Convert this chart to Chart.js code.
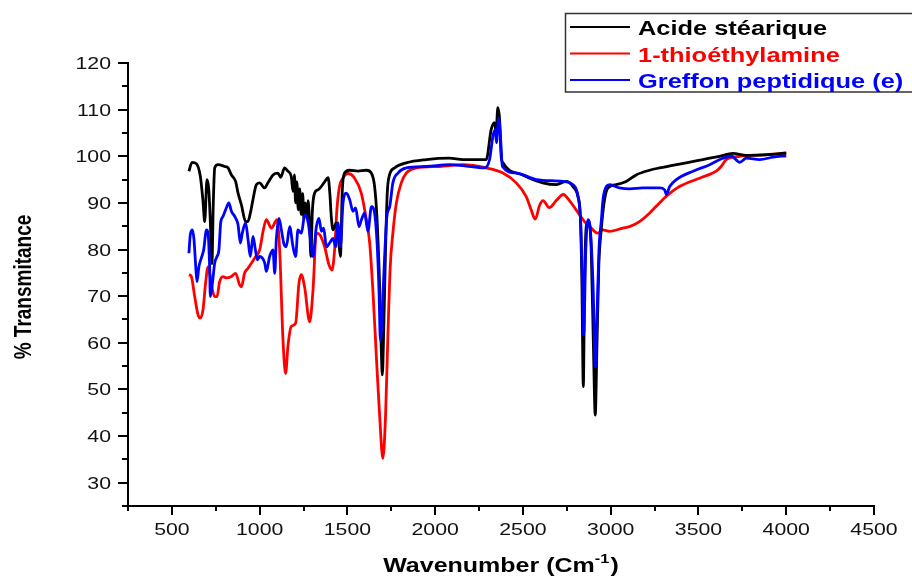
<!DOCTYPE html>
<html>
<head>
<meta charset="utf-8">
<script src="https://cdn.jsdelivr.net/npm/chart.js@4"></script>
<style>
  body { margin: 0; background: #fff; }
  canvas { display: block; }
</style>
</head>
<body>
<canvas id="ir" width="912" height="577"></canvas>
<script>
// Series labels
const seriesNames = ['Acide stéarique', '1-thioéthylamine', 'Greffon peptidique (e)'];

// Acide stéarique (black)
const stearicWn = [597, 615, 640, 662, 677, 687, 700, 710, 718, 728, 736, 744, 763, 801, 820, 839, 863, 877, 896, 920, 933, 947, 962, 981, 1000, 1028, 1047, 1076, 1104, 1120, 1142, 1161, 1180, 1190, 1198, 1205, 1212, 1220, 1228, 1237, 1245, 1252, 1260, 1268, 1276, 1285, 1292, 1300, 1313, 1332, 1351, 1370, 1390, 1400, 1408, 1418, 1437, 1450, 1460, 1471, 1484, 1513, 1560, 1608, 1636, 1655, 1668, 1683, 1693, 1699, 1706, 1717, 1727, 1740, 1769, 1835, 1949, 2082, 2158, 2291, 2319, 2338, 2347, 2357, 2367, 2376, 2386, 2499, 2613, 2690, 2747, 2785, 2813, 2827, 2836, 2844, 2851, 2861, 2875, 2889, 2902, 2912, 2921, 2932, 2946, 2965, 2984, 3031, 3088, 3145, 3221, 3278, 3430, 3525, 3620, 3696, 3772, 3886, 4000];
const stearicT = [96.8, 98.7, 98.4, 95.7, 90.5, 86.0, 95.0, 93.0, 87.0, 77.0, 90.0, 97.5, 98.2, 97.8, 97.5, 96.0, 94.6, 92.1, 89.6, 86.0, 86.0, 87.8, 90.7, 93.9, 94.3, 93.2, 94.3, 96.0, 96.4, 95.5, 97.5, 96.8, 95.7, 92.5, 96.0, 90.0, 94.5, 88.5, 93.0, 87.5, 92.0, 86.5, 90.0, 87.0, 90.5, 85.0, 78.5, 88.0, 92.1, 92.8, 93.5, 94.5, 95.4, 92.0, 87.1, 84.2, 85.7, 82.0, 78.5, 92.8, 96.4, 97.0, 96.8, 97.0, 96.4, 93.5, 87.1, 72.8, 58.4, 53.1, 61.3, 79.9, 92.1, 96.0, 97.5, 98.6, 99.3, 99.6, 99.3, 99.3, 105.7, 107.2, 105.0, 110.4, 107.9, 100.0, 98.6, 96.0, 94.3, 93.9, 94.6, 93.5, 91.4, 87.1, 72.8, 50.6, 72.8, 85.0, 86.0, 79.9, 58.4, 44.5, 58.4, 76.3, 84.2, 90.7, 93.2, 93.9, 94.6, 96.0, 97.0, 97.5, 98.6, 99.3, 100.0, 100.6, 100.2, 100.3, 100.7];

// 1-thioéthylamine (red)
const thioWn = [597, 611, 630, 649, 662, 677, 692, 706, 715, 730, 744, 757, 772, 791, 810, 839, 863, 886, 896, 914, 934, 972, 1000, 1020, 1038, 1067, 1099, 1114, 1133, 1148, 1161, 1180, 1205, 1224, 1237, 1256, 1285, 1304, 1323, 1342, 1370, 1395, 1412, 1427, 1440, 1455, 1474, 1503, 1541, 1579, 1608, 1627, 1645, 1665, 1684, 1702, 1717, 1731, 1744, 1759, 1779, 1807, 1835, 1892, 2025, 2158, 2291, 2386, 2462, 2518, 2547, 2570, 2595, 2614, 2650, 2690, 2730, 2765, 2803, 2851, 2889, 2927, 2955, 2993, 3069, 3107, 3164, 3221, 3278, 3316, 3392, 3506, 3601, 3629, 3658, 3734, 3848, 4000];
const thioT = [74.6, 74.2, 69.9, 66.0, 65.3, 67.0, 72.8, 76.3, 75.0, 71.5, 69.9, 69.9, 73.1, 74.2, 73.9, 74.2, 74.9, 72.4, 72.0, 74.9, 76.0, 78.2, 79.9, 84.0, 86.4, 84.6, 86.4, 79.9, 60.6, 53.4, 59.2, 63.5, 64.2, 72.8, 74.6, 72.0, 64.5, 71.3, 83.5, 83.2, 80.6, 76.7, 75.6, 79.9, 88.5, 93.5, 95.3, 96.3, 95.3, 92.1, 86.4, 81.4, 71.3, 57.0, 44.1, 35.2, 44.1, 62.0, 76.3, 83.5, 90.0, 94.3, 96.4, 97.5, 97.8, 98.2, 97.5, 96.4, 94.3, 91.4, 88.5, 86.5, 89.5, 90.5, 89.0, 90.5, 91.8, 90.5, 88.5, 86.0, 84.6, 83.5, 84.2, 83.9, 84.6, 84.9, 86.0, 87.8, 90.0, 91.4, 93.5, 95.3, 96.8, 97.8, 99.3, 100.0, 100.3, 100.6];

// Greffon peptidique (e) (blue)
const greffonWn = [597, 605, 617, 626, 636, 643, 654, 668, 681, 697, 706, 715, 719, 731, 744, 757, 768, 778, 791, 810, 825, 839, 858, 877, 890, 901, 920, 934, 947, 962, 976, 987, 1000, 1029, 1038, 1057, 1076, 1086, 1095, 1110, 1124, 1137, 1152, 1171, 1190, 1205, 1218, 1238, 1257, 1275, 1285, 1304, 1323, 1338, 1352, 1365, 1380, 1399, 1418, 1433, 1446, 1460, 1475, 1494, 1513, 1532, 1547, 1566, 1580, 1598, 1617, 1637, 1655, 1669, 1680, 1688, 1700, 1712, 1725, 1741, 1759, 1788, 1836, 1950, 2083, 2158, 2282, 2310, 2329, 2343, 2349, 2362, 2373, 2383, 2463, 2577, 2728, 2785, 2814, 2829, 2839, 2846, 2858, 2871, 2884, 2899, 2913, 2922, 2933, 2947, 2956, 2975, 2994, 3051, 3108, 3184, 3279, 3307, 3317, 3336, 3374, 3469, 3564, 3640, 3688, 3735, 3773, 3848, 3925, 4000];
const greffonT = [79.2, 83.2, 84.2, 82.1, 76.3, 73.1, 76.3, 78.2, 79.9, 84.2, 83.5, 76.3, 69.9, 72.8, 77.1, 78.5, 79.9, 85.7, 87.1, 88.9, 90.0, 88.2, 87.1, 85.3, 81.4, 83.5, 85.7, 82.1, 78.5, 82.8, 79.9, 77.8, 78.5, 77.1, 75.3, 78.5, 79.9, 74.9, 82.1, 86.7, 84.2, 81.4, 80.6, 84.9, 80.6, 78.5, 84.2, 83.5, 87.5, 86.0, 83.5, 78.5, 84.9, 86.7, 83.9, 84.6, 80.6, 81.4, 82.4, 80.6, 85.7, 80.6, 90.0, 92.1, 90.7, 88.2, 88.9, 84.9, 86.4, 87.8, 83.9, 89.2, 87.8, 81.4, 71.3, 60.5, 68.0, 78.5, 87.1, 89.2, 94.3, 96.4, 97.5, 97.8, 98.2, 98.0, 97.5, 99.3, 104.3, 105.7, 102.9, 108.2, 103.6, 97.8, 96.4, 95.0, 94.6, 93.9, 91.4, 85.7, 72.8, 61.7, 79.9, 86.4, 84.2, 72.8, 54.9, 65.6, 79.9, 86.4, 90.7, 93.5, 93.9, 93.2, 93.0, 93.2, 93.2, 92.8, 91.8, 93.5, 95.0, 96.8, 98.2, 99.6, 100.0, 98.7, 99.6, 99.3, 99.8, 100.1];

// Axis ticks
const xTicks = [500, 1000, 1500, 2000, 2500, 3000, 3500, 4000, 4500];
const xMinorTicks = [250, 750, 1250, 1750, 2250, 2750, 3250, 3750, 4250];
const yTicks = [30, 40, 50, 60, 70, 80, 90, 100, 110, 120];
const yMinorTicks = [25, 35, 45, 55, 65, 75, 85, 95, 105, 115];

const colors = ['#000000', '#ff0000', '#0000ff'];
const FONT = "'Liberation Sans', Arial, sans-serif";
const SX = 1.25; // the source picture is stretched sideways

function toPoints(xs, ys) {
  return xs.map((x, i) => ({ x: x, y: ys[i] }));
}

// write text stretched horizontally
function stretchText(ctx, text, x, y, align, sx) {
  ctx.save();
  ctx.translate(x, y);
  ctx.scale(sx, 1);
  ctx.textAlign = align;
  ctx.fillText(text, 0, 0);
  ctx.restore();
}

const decorPlugin = {
  id: 'decor',
  afterDraw(chart) {
    const ctx = chart.ctx;
    const xs = chart.scales.x;
    const ys = chart.scales.y;
    const area = chart.chartArea;
    ctx.save();
    ctx.strokeStyle = '#000';
    ctx.lineWidth = 2;

    // tick marks
    ctx.beginPath();
    xTicks.forEach(v => {
      const px = Math.round(xs.getPixelForValue(v));
      ctx.moveTo(px, area.bottom); ctx.lineTo(px, area.bottom + 9);
    });
    xMinorTicks.forEach(v => {
      const px = Math.round(xs.getPixelForValue(v));
      ctx.moveTo(px, area.bottom); ctx.lineTo(px, area.bottom + 5);
    });
    yTicks.forEach(v => {
      const py = Math.round(ys.getPixelForValue(v));
      ctx.moveTo(area.left, py); ctx.lineTo(area.left - 10, py);
    });
    yMinorTicks.forEach(v => {
      const py = Math.round(ys.getPixelForValue(v));
      ctx.moveTo(area.left, py); ctx.lineTo(area.left - 6, py);
    });
    ctx.stroke();

    // tick labels
    ctx.fillStyle = '#111';
    ctx.font = '17px ' + FONT;
    ctx.textBaseline = 'alphabetic';
    xTicks.forEach(v => {
      stretchText(ctx, String(v), xs.getPixelForValue(v), area.bottom + 29, 'center', SX);
    });
    yTicks.forEach(v => {
      stretchText(ctx, String(v), area.left - 17, ys.getPixelForValue(v) + 6, 'right', SX);
    });

    // x title with superscript
    ctx.fillStyle = '#000';
    ctx.font = 'bold 20px ' + FONT;
    const partA = 'Wavenumber (Cm';
    const partB = '-1';
    const partC = ')';
    const wA = ctx.measureText(partA).width;
    const wC = ctx.measureText(partC).width;
    ctx.font = 'bold 13px ' + FONT;
    const wB = ctx.measureText(partB).width;
    const total = (wA + wB + wC + 1) * SX;
    let tx = 501 - total / 2;
    const ty = 572;
    ctx.font = 'bold 20px ' + FONT;
    stretchText(ctx, partA, tx, ty, 'left', SX);
    tx += wA * SX;
    ctx.font = 'bold 13px ' + FONT;
    stretchText(ctx, partB, tx, ty - 9, 'left', SX);
    tx += (wB + 1) * SX;
    ctx.font = 'bold 20px ' + FONT;
    stretchText(ctx, partC, tx, ty, 'left', SX);

    // y title
    ctx.save();
    ctx.translate(24, 287);
    ctx.rotate(-Math.PI / 2);
    ctx.scale(1, 1.3);
    ctx.font = 'bold 19px ' + FONT;
    ctx.textAlign = 'center';
    ctx.textBaseline = 'middle';
    ctx.fillText('% Transmitance', 0, 0);
    ctx.restore();

    // legend box
    ctx.lineWidth = 1.5;
    ctx.strokeStyle = '#333';
    ctx.strokeRect(565.5, 13.5, 420, 78.5);
    const rowsY = [27, 53.5, 80];
    const baseY = [35, 61.5, 88];
    ctx.font = 'bold 20px ' + FONT;
    seriesNames.forEach((name, i) => {
      ctx.strokeStyle = colors[i];
      ctx.lineWidth = 2;
      ctx.beginPath();
      ctx.moveTo(570, rowsY[i]);
      ctx.lineTo(630, rowsY[i]);
      ctx.stroke();
      ctx.fillStyle = colors[i];
      stretchText(ctx, name, 638, baseY[i], 'left', 1.27);
    });

    ctx.restore();
  }
};

const series = [
  { name: seriesNames[0], xs: stearicWn, ys: stearicT, color: colors[0], order: 1 },
  { name: seriesNames[1], xs: thioWn, ys: thioT, color: colors[1], order: 2 },
  { name: seriesNames[2], xs: greffonWn, ys: greffonT, color: colors[2], order: 0 }
];

new Chart(document.getElementById('ir').getContext('2d'), {
  type: 'line',
  data: {
    datasets: series.map(s => ({
      label: s.name,
      data: toPoints(s.xs, s.ys),
      borderColor: s.color,
      backgroundColor: s.color,
      borderWidth: 2.8,
      pointRadius: 0,
      cubicInterpolationMode: 'monotone',
      order: s.order
    }))
  },
  options: {
    responsive: false,
    animation: false,
    layout: { padding: { top: 63, right: 38, left: 0, bottom: 0 } },
    scales: {
      x: {
        type: 'linear',
        min: 250,
        max: 4500,
        ticks: { display: false },
        grid: { display: false },
        border: { display: true, color: '#000', width: 2 },
        afterFit(scale) { scale.height = 71; }
      },
      y: {
        min: 25,
        max: 120,
        ticks: { display: false },
        grid: { display: false },
        border: { display: true, color: '#000', width: 2 },
        afterFit(scale) { scale.width = 128; }
      }
    },
    plugins: {
      legend: { display: false },
      tooltip: { enabled: false }
    }
  },
  plugins: [decorPlugin]
});
</script>
</body>
</html>
